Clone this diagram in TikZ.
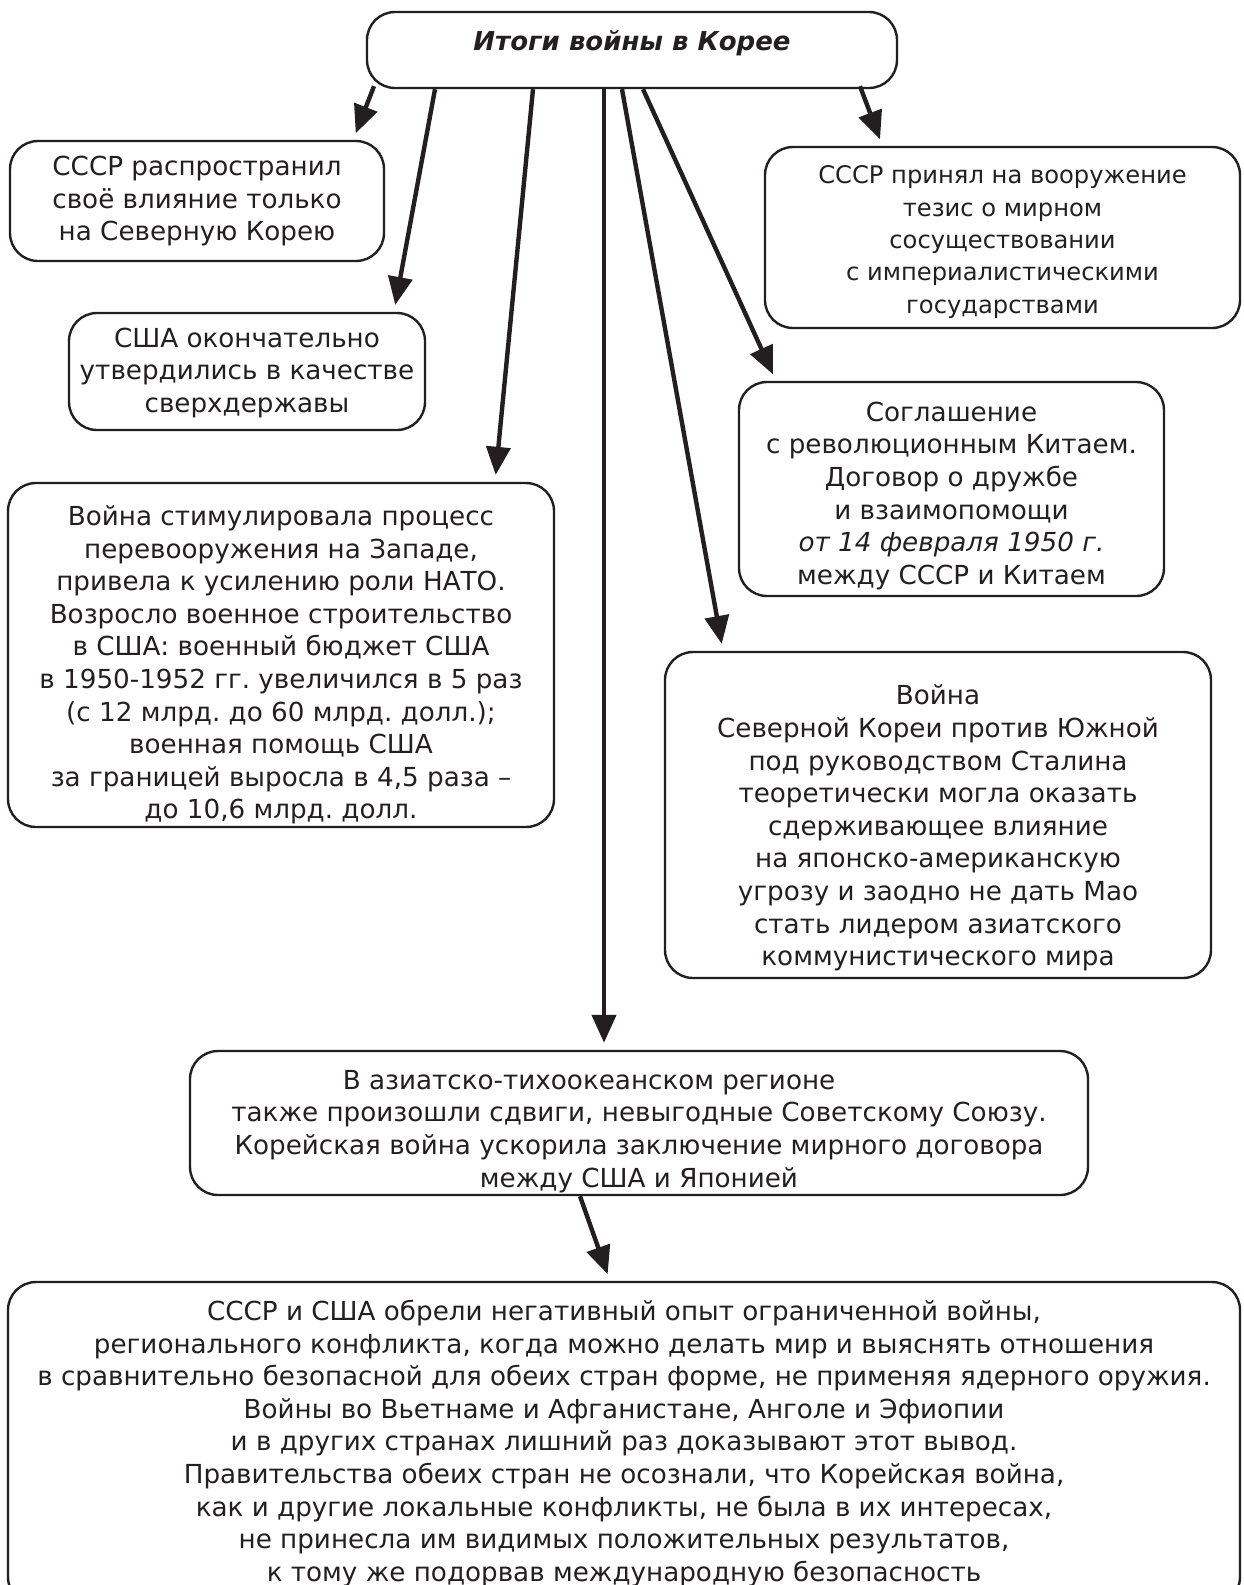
\documentclass[tikz,border=0pt]{standalone}
\usepackage{fontspec}
\setmainfont{DejaVu Sans}[BoldFont={DejaVu Sans Bold}, ItalicFont={DejaVu Sans Oblique}, BoldItalicFont={DejaVu Sans Bold Oblique}]
\usetikzlibrary{arrows.meta, positioning, calc}
\definecolor{inkgray}{RGB}{35, 31, 32}
\frenchspacing
\newcommand{\sinkby}[1]{\rule{0pt}{#1}}

\begin{document}
\begin{tikzpicture}[x=1pt, y=-1pt,
  rbox/.style={draw=inkgray, line width=2.4pt, rounded corners=28pt, align=center, inner sep=0pt, text=inkgray, font=\fontsize{26.2}{32.6}\selectfont},
  arr/.style={-{Triangle[length=28pt, width=24pt]}, line width=4.4pt, draw=inkgray, shorten >=7pt}
]
  \clip (0,0) rectangle (1244,1585);

  \node[rbox, minimum width=530, minimum height=76, text height=19, text depth=19, font=\fontsize{26}{30}\selectfont\bfseries\itshape] (top) at (632, 50) {Итоги войны в Корее};

  \node[rbox, minimum width=374, minimum height=120] (ussrInfl) at (197, 201) {
    СССР распространил\\
    своё влияние только\\
    на Северную Корею
  };
  \node[rbox, minimum width=356, minimum height=117] (usaPower) at (247, 371.5) {
    \sinkby{22pt}США окончательно\\
    утвердились в качестве\\
    сверхдержавы
  };
  \node[rbox, minimum width=546, minimum height=344] (rearm) at (281, 655) {
    \sinkby{40pt}Война стимулировала процесс\\
    перевооружения на Западе,\\
    привела к усилению роли НАТО.\\
    Возросло военное строительство\\
    в США: военный бюджет США\\
    в 1950-1952 гг. увеличился в 5 раз\\
    (с 12 млрд. до 60 млрд. долл.);\\
    военная помощь США\\
    за границей выросла в 4,5 раза –\\
    до 10,6 млрд. долл.
  };
  \node[rbox, minimum width=475, minimum height=181, font=\fontsize{24.2}{32.4}\selectfont] (thesis) at (1002.5, 237.5) {
    \sinkby{27pt}СССР принял на вооружение\\
    тезис о мирном\\
    сосуществовании\\
    с империалистическими\\
    государствами
  };
  \node[rbox, minimum width=425, minimum height=214] (china) at (951.5, 489) {
    \sinkby{33pt}Соглашение\\
    с революционным Китаем.\\
    Договор о дружбе\\
    и взаимопомощи\\
    \textit{от 14 февраля 1950 г.}\\
    между СССР и Китаем
  };
  \node[rbox, minimum width=546, minimum height=326] (stalin) at (938, 815) {
    \sinkby{46pt}Война\\
    Северной Кореи против Южной\\
    под руководством Сталина\\
    теоретически могла оказать\\
    сдерживающее влияние\\
    на японско-американскую\\
    угрозу и заодно не дать Мао\\
    стать лидером азиатского\\
    коммунистического мира
  };
  \node[rbox, minimum width=898, minimum height=144] (asia) at (639, 1123) {
    \sinkby{36pt}В азиатско-тихоокеанском регионе\hspace*{100pt}\\
    также произошли сдвиги, невыгодные Советскому Союзу.\\
    Корейская война ускорила заключение мирного договора\\
    между США и Японией
  };
  \node[rbox, minimum width=1232, minimum height=323] (lesson) at (624, 1443.5) {
    СССР и США обрели негативный опыт ограниченной войны,\\
    регионального конфликта, когда можно делать мир и выяснять отношения\\
    в сравнительно безопасной для обеих стран форме, не применяя ядерного оружия.\\
    Войны во Вьетнаме и Афганистане, Анголе и Эфиопии\\
    и в других странах лишний раз доказывают этот вывод.\\
    Правительства обеих стран не осознали, что Корейская война,\\
    как и другие локальные конфликты, не была в их интересах,\\
    не принесла им видимых положительных результатов,\\
    к тому же подорвав международную безопасность
  };

  % arrows from the title
  \draw[arr] ([xshift=-258, yshift=3]top.south) -- ([xshift=-32]ussrInfl.north east);
  \draw[arr] ([xshift=-197]top.south) -- ([xshift=147]usaPower.north);
  \draw[arr] ([xshift=-99]top.south) -- ([xshift=214]rearm.north);
  \draw[arr] ([xshift=-28]top.south) -- ([xshift=-35]asia.north);
  \draw[arr] ([xshift=-10]top.south) -- ([xshift=-215]stalin.north);
  \draw[arr] ([xshift=11]top.south) -- ([xshift=-175.5]china.north);
  \draw[arr] ([xshift=228, yshift=3]top.south) -- ([xshift=-120]thesis.north);
  \draw[arr] ([xshift=-59]asia.south) -- ([xshift=-14]lesson.north);
\end{tikzpicture}
\end{document}
